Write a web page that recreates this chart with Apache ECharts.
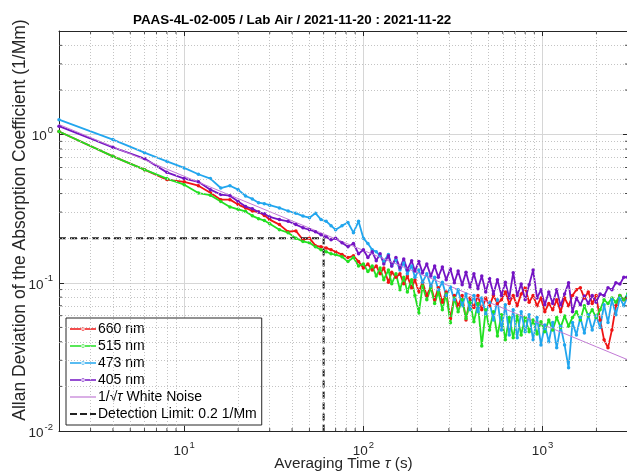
<!DOCTYPE html>
<html>
<head>
<meta charset="utf-8">
<script src="https://cdn.jsdelivr.net/npm/echarts@6/dist/echarts.min.js"></script>
<style>
  html, body { margin: 0; padding: 0; background: #fff; }
  #charts { width: 627px; height: 473px; }
</style>
</head>
<body>
<div id="charts"></div>
<script>
// averaging times (s)
var tau = [2, 4, 6, 8, 10, 12, 14, 16, 18, 20, 22, 24, 26, 28, 30,
    34, 38, 42, 46, 50, 54, 58, 62, 66, 70, 76, 82, 88, 94, 100,
    106, 112, 118, 124, 130, 138, 144, 152, 160, 168,
    176, 186, 194, 204, 214, 226, 238, 250, 262, 276,
    290, 306, 322, 338, 356, 374, 394, 414, 436, 458,
    482, 506, 532, 560, 590, 620, 652, 686, 722, 760,
    800, 842, 886, 932, 980, 1030, 1084, 1140, 1200, 1262,
    1328, 1398, 1470, 1546, 1626, 1712, 1800, 1894, 1992, 2096,
    2206, 2320, 2440, 2568, 2702, 2842, 2990];

var adev660 = [1.05, 0.713, 0.58, 0.497, 0.48, 0.452, 0.405, 0.364, 0.364, 0.337, 0.32, 0.305, 0.30, 0.285, 0.267,
    0.247, 0.221, 0.224, 0.195, 0.20, 0.178, 0.175, 0.172, 0.167, 0.162, 0.155, 0.148, 0.152, 0.139, 0.126,
    0.134, 0.122, 0.13, 0.115, 0.126, 0.101, 0.118, 0.109, 0.115, 0.0985,
    0.111, 0.0925, 0.105, 0.0868, 0.101, 0.082, 0.095, 0.0767, 0.0925, 0.074,
    0.0868, 0.0574, 0.082, 0.0699, 0.082, 0.0562, 0.079, 0.068, 0.082, 0.0657,
    0.079, 0.0699, 0.082, 0.0726, 0.0767, 0.0868, 0.0726, 0.082, 0.0699, 0.084,
    0.0925, 0.074, 0.082, 0.0699, 0.079, 0.0638, 0.0726, 0.0657, 0.0767, 0.0638,
    0.079, 0.0699, 0.082, 0.0897, 0.0925, 0.079, 0.0868, 0.0726, 0.082, 0.0562,
    0.0412, 0.0364, 0.0481, 0.0699, 0.082, 0.0767, 0.079];

var adev515 = [1.05, 0.713, 0.58, 0.505, 0.459, 0.403, 0.39, 0.354, 0.325, 0.313, 0.303, 0.283, 0.271, 0.263, 0.25,
    0.228, 0.218, 0.20, 0.19, 0.186, 0.175, 0.167, 0.162, 0.157, 0.155, 0.15, 0.139, 0.148, 0.13, 0.134,
    0.119, 0.13, 0.111, 0.126, 0.105, 0.122, 0.0985, 0.115, 0.0897, 0.109,
    0.0868, 0.105, 0.082, 0.0626, 0.095, 0.0767, 0.0925, 0.0726, 0.0868, 0.0657,
    0.084, 0.0537, 0.079, 0.0638, 0.0767, 0.0574, 0.074, 0.0545, 0.0726, 0.0375,
    0.0657, 0.0481, 0.0638, 0.0438, 0.0608, 0.0412, 0.0584, 0.0425, 0.0598, 0.0445,
    0.0584, 0.0467, 0.0562, 0.0452, 0.0545, 0.0467, 0.0562, 0.0481, 0.0584, 0.05,
    0.0598, 0.051, 0.0584, 0.0638, 0.0562, 0.0699, 0.0598, 0.0657, 0.0584, 0.0657,
    0.0767, 0.0726, 0.079, 0.074, 0.082, 0.0767, 0.084];

var adev473 = [1.26, 0.925, 0.755, 0.66, 0.596, 0.54, 0.505, 0.436, 0.452, 0.425, 0.385, 0.368, 0.347, 0.342, 0.334,
    0.32, 0.305, 0.295, 0.282, 0.275, 0.295, 0.267, 0.26, 0.243, 0.228, 0.243, 0.255, 0.218, 0.26, 0.20,
    0.184, 0.167, 0.162, 0.152, 0.139, 0.155, 0.13, 0.143, 0.122, 0.136,
    0.115, 0.13, 0.109, 0.122, 0.101, 0.115, 0.095, 0.109, 0.0897, 0.101,
    0.082, 0.0935, 0.0767, 0.0897, 0.0699, 0.084, 0.0657, 0.082, 0.0638, 0.079,
    0.0617, 0.074, 0.0562, 0.0767, 0.0481, 0.071, 0.0445, 0.0657, 0.0425, 0.0638,
    0.0467, 0.0608, 0.0412, 0.0584, 0.0381, 0.052, 0.04, 0.054, 0.0364, 0.051,
    0.0381, 0.0267, 0.054, 0.0445, 0.0584, 0.0458, 0.0608, 0.0481, 0.0598, 0.05,
    0.071, 0.054, 0.0767, 0.0608, 0.079, 0.07, 0.082];

var adev405 = [1.14, 0.82, 0.69, 0.556, 0.505, 0.48, 0.425, 0.394, 0.387, 0.354, 0.327, 0.316, 0.30, 0.292, 0.278,
    0.267, 0.26, 0.247, 0.235, 0.228, 0.221, 0.211, 0.204, 0.195, 0.20, 0.186, 0.175, 0.184, 0.157, 0.167,
    0.148, 0.162, 0.141, 0.157, 0.134, 0.152, 0.13, 0.148, 0.126, 0.145,
    0.122, 0.141, 0.12, 0.139, 0.117, 0.134, 0.111, 0.13, 0.109, 0.128,
    0.105, 0.124, 0.10, 0.12, 0.0969, 0.118, 0.0935, 0.115, 0.0912, 0.111,
    0.0868, 0.107, 0.084, 0.105, 0.082, 0.101, 0.079, 0.117, 0.082, 0.098,
    0.0767, 0.0969, 0.122, 0.079, 0.0897, 0.071, 0.0868, 0.0726, 0.0897, 0.0699,
    0.084, 0.10, 0.0638, 0.079, 0.071, 0.0813, 0.0726, 0.082, 0.074, 0.084,
    0.082, 0.0925, 0.0897, 0.10, 0.098, 0.109, 0.109];

// 1/sqrt(tau) reference line, end points
var noiseTau = [2, 3000];
var noiseVal = [1.17, 0.0302];

// detection limit corner line
var limitTau = [2, 60, 60];
var limitVal = [0.2, 0.2, 0.01];

var minorTau = [3, 4, 5, 6, 7, 8, 9, 20, 30, 40, 50, 60, 70, 80, 90,
    200, 300, 400, 500, 600, 700, 800, 900, 2000];
var minorVal = [0.02, 0.03, 0.04, 0.05, 0.06, 0.07, 0.08, 0.09,
    0.2, 0.3, 0.4, 0.5, 0.6, 0.7, 0.8, 0.9, 2, 3, 4];

var xMin = 2, xMax = 3000, yMin = 0.01, yMax = 5;
var font = '"Liberation Sans", Arial, Helvetica, sans-serif';
var ink = '#262626';

// legend glyphs: line with a dot, plain line, dashed line
var iconDot = 'path://M0 2.2h26v1.6H0z M11.2 3a1.8 1.8 0 1 0 3.6 0a1.8 1.8 0 1 0 -3.6 0z';
var iconLine = 'path://M0 0h26v1.2H0z';
var iconDash = 'path://M0 0h7v1.8H0z M10 0h7v1.8h-7z M20 0h6v1.8h-6z';

function pairs(xs, ys) {
    return xs.map(function (x, i) { return [x, ys[i]]; });
}

function powLabel(v) {
    var e = Math.log10(v);
    if (Math.abs(e - Math.round(e)) > 1e-6) return '';
    return '{b|10}{e|' + Math.round(e) + '}';
}

var labelRich = {
    b: { fontSize: 13.5, fontFamily: font, color: ink, lineHeight: 18, verticalAlign: 'bottom' },
    e: { fontSize: 9.5, fontFamily: font, color: ink, lineHeight: 18, verticalAlign: 'top', padding: [0, 0, 0, 1] }
};

function dataSeries(name, color, vals) {
    return {
        name: name,
        type: 'line',
        data: pairs(tau, vals),
        symbol: 'circle',
        symbolSize: 3.5,
        showAllSymbol: true,
        lineStyle: { color: color, width: 1.8 },
        itemStyle: { color: color },
        silent: true
    };
}

function tickSeries(pts, size, offset) {
    return {
        type: 'scatter',
        data: pts,
        symbol: 'rect',
        symbolSize: size,
        symbolOffset: offset,
        itemStyle: { color: ink },
        silent: true,
        clip: false,
        z: 5
    };
}

var myChart = echarts.init(document.getElementById('charts'));
var option = {
    animation: false,
    backgroundColor: '#fff',
    title: {
        text: 'PAAS-4L-02-005 / Lab Air / 2021-11-20 : 2021-11-22',
        left: 128,
        top: 9,
        textStyle: { fontSize: 13.4, fontWeight: 'bold', fontFamily: font, color: '#000' }
    },
    grid: { left: 59, top: 31, right: -1, bottom: 42, outerBoundsMode: 'none' },
    legend: {
        orient: 'vertical',
        left: 66,
        top: 318,
        padding: [4, 5, 4, 4],
        itemGap: 3,
        itemWidth: 26,
        itemHeight: 14,
        backgroundColor: '#fff',
        borderColor: ink,
        borderWidth: 1,
        data: [
            { name: '660 nm', icon: iconDot },
            { name: '515 nm', icon: iconDot },
            { name: '473 nm', icon: iconDot },
            { name: '405 nm', icon: iconDot },
            { name: 'noise', icon: iconLine },
            { name: 'Detection Limit: 0.2 1/Mm', icon: iconDash }
        ],
        formatter: function (name) {
            return name === 'noise' ? '1/\u221A{i|\u03C4} White Noise' : name;
        },
        textStyle: {
            fontSize: 14, fontFamily: font, color: '#000', padding: [0, 0, 0, -3],
            rich: { i: { fontSize: 14, fontFamily: font, fontStyle: 'italic', color: '#000' } }
        }
    },
    xAxis: [{
        type: 'log',
        logBase: 10,
        min: xMin,
        max: xMax,
        name: 'Averaging Time {i|\u03C4} (s)',
        nameLocation: 'middle',
        nameGap: 25,
        nameMoveOverlap: false,
        nameTextStyle: {
            fontSize: 15.3, fontFamily: font, color: ink,
            rich: { i: { fontSize: 15.3, fontFamily: font, fontStyle: 'italic', color: ink } }
        },
        axisLine: { lineStyle: { color: ink, width: 1 } },
        axisTick: { inside: true, length: 5, lineStyle: { color: ink } },
        axisLabel: { formatter: powLabel, rich: labelRich, margin: 9 },
        splitLine: { show: true, lineStyle: { color: '#d6d6d6', width: 1 } }
    }, {
        type: 'log',
        logBase: 10,
        min: xMin,
        max: xMax,
        position: 'top',
        axisLine: { lineStyle: { color: ink, width: 1 } },
        axisTick: { inside: true, length: 5, lineStyle: { color: ink } },
        axisLabel: { show: false },
        splitLine: { show: false }
    }],
    yAxis: [{
        type: 'log',
        logBase: 10,
        min: yMin,
        max: yMax,
        name: 'Allan Deviation of the Absorption Coefficient (1/Mm)',
        nameLocation: 'middle',
        nameGap: 30,
        nameMoveOverlap: false,
        nameTextStyle: { fontSize: 17.5, fontFamily: font, color: ink, padding: [0, 0, 0, 22] },
        axisLine: { lineStyle: { color: ink, width: 1 } },
        axisTick: { inside: true, length: 5, lineStyle: { color: ink } },
        axisLabel: { formatter: powLabel, rich: labelRich, margin: 6 },
        splitLine: { show: true, lineStyle: { color: '#d6d6d6', width: 1 } }
    }, {
        type: 'log',
        logBase: 10,
        min: yMin,
        max: yMax,
        position: 'right',
        axisLine: { lineStyle: { color: ink, width: 1 } },
        axisTick: { inside: true, length: 5, lineStyle: { color: ink } },
        axisLabel: { show: false },
        splitLine: { show: false }
    }],
    series: [
        {
            name: 'minorGrid',
            type: 'line',
            data: [],
            silent: true,
            markLine: {
                silent: true,
                symbol: ['none', 'none'],
                label: { show: false },
                lineStyle: { color: '#c4c4c4', type: [1, 2], width: 1 },
                data: minorTau.map(function (v) { return { xAxis: v }; })
                    .concat(minorVal.map(function (v) { return { yAxis: v }; }))
            }
        },
        tickSeries(minorTau.map(function (v) { return [v, yMin]; }), [1, 3], [0, -1.5]),
        tickSeries(minorTau.map(function (v) { return [v, yMax]; }), [1, 3], [0, 1.5]),
        tickSeries(minorVal.map(function (v) { return [xMin, v]; }), [3, 1], [1.5, 0]),
        tickSeries(minorVal.map(function (v) { return [xMax, v]; }), [3, 1], [-1.5, 0]),
        dataSeries('660 nm', '#f01414', adev660),
        dataSeries('515 nm', '#22e022', adev515),
        dataSeries('473 nm', '#22a6ee', adev473),
        dataSeries('405 nm', '#7414c4', adev405),
        {
            name: 'noise',
            type: 'line',
            data: pairs(noiseTau, noiseVal),
            showSymbol: false,
            symbol: 'none',
            lineStyle: { color: '#c27ad6', width: 1 },
            itemStyle: { color: '#c27ad6' },
            silent: true
        },
        {
            name: 'Detection Limit: 0.2 1/Mm',
            type: 'line',
            data: pairs(limitTau, limitVal),
            showSymbol: false,
            symbol: 'none',
            lineStyle: { color: '#222', width: 2, type: [7, 4] },
            itemStyle: { color: '#222' },
            silent: true,
            z: 3
        }
    ]
};
myChart.setOption(option);
</script>
</body>
</html>
